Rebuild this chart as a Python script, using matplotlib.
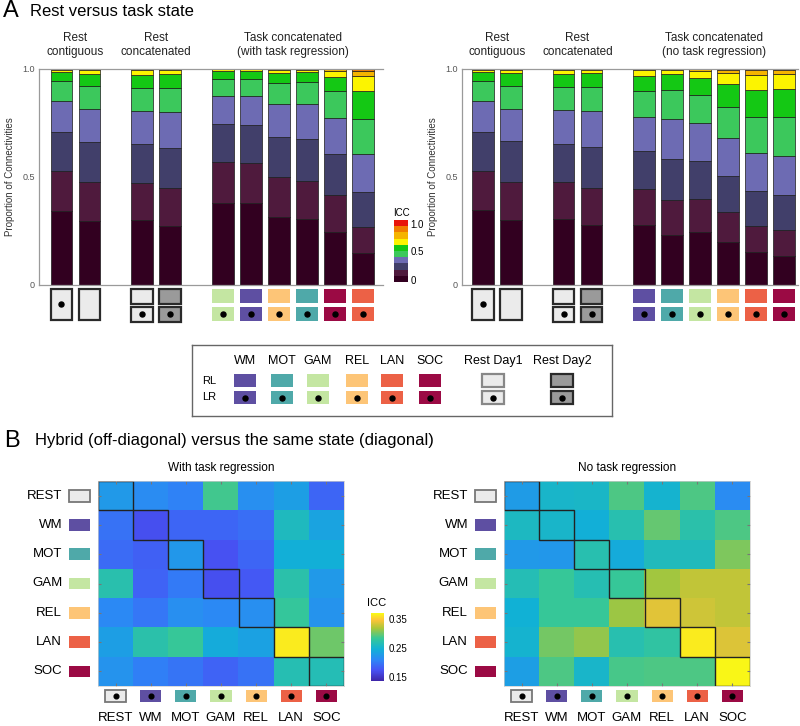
import numpy as np
import matplotlib
matplotlib.use('Agg')
import matplotlib.pyplot as plt
from matplotlib.patches import Rectangle
from matplotlib.colors import ListedColormap, BoundaryNorm, LinearSegmentedColormap
import matplotlib.transforms as mtrans

plt.rcParams['font.family'] = ['Liberation Sans', 'DejaVu Sans']

W, H = 800, 726

# ---- data -------------------------------------------------------------
# ICC bins 0-0.1, 0.1-0.2, ... 0.9-1.0
icc_colors = ['#320020', '#4f1a3d', '#413f6a', '#6d6bb3', '#3cc85c',
              '#14c814', '#fcf400', '#f5b400', '#f07c00', '#e8140a']

task_colors = {'WM': '#5e4fa2', 'MOT': '#4fa9a9', 'GAM': '#c4e6a2',
               'REL': '#fdc577', 'LAN': '#ec6146', 'SOC': '#9b0a44'}
rest_light, rest_dark = '#ebebeb', '#9a9a9a'

order_reg = ['GAM', 'WM', 'REL', 'MOT', 'SOC', 'LAN']
order_noreg = ['WM', 'MOT', 'GAM', 'REL', 'LAN', 'SOC']

# proportion of connectivities per ICC bin, one row per bar
props_reg = [
    [0.343, 0.182, 0.180, 0.145, 0.090, 0.045, 0.010, 0.005, 0.000, 0.000],
    [0.297, 0.178, 0.185, 0.154, 0.106, 0.054, 0.018, 0.008, 0.000, 0.000],
    [0.300, 0.172, 0.177, 0.156, 0.107, 0.059, 0.020, 0.009, 0.000, 0.000],
    [0.272, 0.174, 0.188, 0.166, 0.112, 0.062, 0.018, 0.008, 0.000, 0.000],
    [0.380, 0.186, 0.177, 0.132, 0.077, 0.036, 0.008, 0.004, 0.000, 0.000],
    [0.377, 0.186, 0.177, 0.134, 0.077, 0.037, 0.008, 0.004, 0.000, 0.000],
    [0.315, 0.183, 0.187, 0.149, 0.100, 0.046, 0.013, 0.007, 0.000, 0.000],
    [0.303, 0.179, 0.193, 0.160, 0.103, 0.045, 0.011, 0.006, 0.000, 0.000],
    [0.246, 0.169, 0.188, 0.169, 0.125, 0.066, 0.026, 0.009, 0.002, 0.000],
    [0.146, 0.120, 0.162, 0.175, 0.166, 0.128, 0.069, 0.023, 0.008, 0.003],
]
props_noreg = [
    [0.346, 0.182, 0.180, 0.143, 0.092, 0.042, 0.010, 0.005, 0.000, 0.000],
    [0.300, 0.178, 0.185, 0.152, 0.105, 0.057, 0.016, 0.007, 0.000, 0.000],
    [0.305, 0.170, 0.177, 0.156, 0.107, 0.059, 0.018, 0.008, 0.000, 0.000],
    [0.277, 0.172, 0.188, 0.166, 0.112, 0.062, 0.016, 0.007, 0.000, 0.000],
    [0.277, 0.165, 0.176, 0.160, 0.119, 0.069, 0.028, 0.005, 0.001, 0.000],
    [0.231, 0.160, 0.191, 0.183, 0.137, 0.072, 0.020, 0.006, 0.000, 0.000],
    [0.243, 0.152, 0.179, 0.172, 0.131, 0.080, 0.032, 0.009, 0.002, 0.000],
    [0.197, 0.138, 0.170, 0.172, 0.146, 0.105, 0.052, 0.013, 0.006, 0.001],
    [0.151, 0.120, 0.161, 0.176, 0.167, 0.125, 0.071, 0.021, 0.007, 0.001],
    [0.134, 0.118, 0.163, 0.183, 0.179, 0.128, 0.069, 0.020, 0.005, 0.001],
]

states = ['REST', 'WM', 'MOT', 'GAM', 'REL', 'LAN', 'SOC']
icc_reg = [
    [0.225, 0.213, 0.206, 0.286, 0.216, 0.230, 0.187],
    [0.195, 0.171, 0.187, 0.187, 0.192, 0.260, 0.234],
    [0.190, 0.183, 0.223, 0.173, 0.187, 0.244, 0.244],
    [0.270, 0.185, 0.200, 0.171, 0.178, 0.272, 0.225],
    [0.211, 0.199, 0.216, 0.211, 0.216, 0.281, 0.220],
    [0.230, 0.272, 0.283, 0.241, 0.232, 0.363, 0.300],
    [0.220, 0.204, 0.197, 0.185, 0.195, 0.267, 0.265],
]
icc_noreg = [
    [0.227, 0.253, 0.255, 0.290, 0.250, 0.290, 0.213],
    [0.258, 0.253, 0.244, 0.269, 0.297, 0.272, 0.290],
    [0.225, 0.223, 0.269, 0.241, 0.262, 0.262, 0.305],
    [0.265, 0.283, 0.267, 0.283, 0.316, 0.326, 0.326],
    [0.246, 0.283, 0.283, 0.314, 0.337, 0.330, 0.326],
    [0.250, 0.302, 0.311, 0.269, 0.276, 0.363, 0.335],
    [0.230, 0.290, 0.253, 0.288, 0.290, 0.290, 0.368],
]

# parula-like colormap
parula = LinearSegmentedColormap.from_list('parula', [
    (0.00, (0.2422, 0.1504, 0.6603)), (0.16, (0.2810, 0.3228, 0.9579)),
    (0.31, (0.1786, 0.5289, 0.9682)), (0.47, (0.0689, 0.6948, 0.8394)),
    (0.63, (0.2161, 0.7843, 0.5923)), (0.78, (0.6720, 0.7793, 0.2227)),
    (0.90, (0.9970, 0.7659, 0.2199)), (1.00, (0.9769, 0.9839, 0.0805))])


def px_axes(fig, x0, y0, x1, y1):
    return fig.add_axes([x0 / W, 1 - y1 / H, (x1 - x0) / W, (y1 - y0) / H])


fig = plt.figure(figsize=(W / 100, H / 100), dpi=100)

# bar positions: two rest pairs then six task bars
xpos = np.array([0, 1, 2.875, 3.875, 5.75, 6.75, 7.75, 8.75, 9.75, 10.75])


def draw_bars(ax, props):
    props = np.array(props)
    props = props / props.sum(axis=1, keepdims=True)
    bottoms = np.zeros(len(props))
    for k in range(props.shape[1]):
        ax.bar(xpos, props[:, k], bottom=bottoms, width=0.78, color=icc_colors[k],
               edgecolor='#1a1a1a', linewidth=0.5)
        bottoms += props[:, k]
    for s in ['top', 'bottom', 'left']:
        ax.spines[s].set_color('#9a9a9a')
        ax.spines[s].set_linewidth(0.9)
    ax.spines['right'].set_visible(False)
    ax.set_ylim(0, 1.0)
    ax.set_xticks([])
    ax.set_yticks([0, 0.5, 1.0])
    ax.set_yticklabels(['0', '0.5', '1.0'], fontsize=6.5, color='#555555')
    ax.tick_params(axis='y', length=0, pad=3)
    ax.set_ylabel('Proportion of Connectivities', fontsize=7, color='#333333', labelpad=5)


def headers(ax, titles):
    tr = mtrans.blended_transform_factory(ax.transData, ax.transAxes)
    centers = [xpos[0:2].mean(), xpos[2:4].mean(), xpos[4:].mean()]
    for c, t in zip(centers, titles):
        ax.text(c, 1.11, t, transform=tr, ha='center', va='center', fontsize=8.5,
                color='#222222', linespacing=1.25)


def rest_box(ax, x, y, h, face, dot, w=0.78, ec='#2a2a2a'):
    ax.add_patch(Rectangle((x - w / 2, y), w, h, facecolor=face, edgecolor=ec,
                           linewidth=1.6, clip_on=False))
    if dot:
        ax.plot(x, y + h / 2, 'o', color='k', ms=3.6, clip_on=False)


def task_box(ax, x, y, h, color, dot, w=0.78):
    ax.add_patch(Rectangle((x - w / 2, y), w, h, facecolor=color, edgecolor='none', clip_on=False))
    if dot:
        ax.plot(x, y + h / 2, 'o', color='k', ms=3.6, clip_on=False)


def draw_icons(ax, order, xl):
    ax.axis('off')
    rest_box(ax, xpos[0], 3.5, 31.5, rest_light, True)
    rest_box(ax, xpos[1], 3.5, 31.5, rest_light, False)
    for i, face in zip([2, 3], [rest_light, rest_dark]):
        rest_box(ax, xpos[i], 4, 14.5, face, False)
        rest_box(ax, xpos[i], 22, 14.5, face, True)
    for i, name in enumerate(order):
        task_box(ax, xpos[4 + i], 4, 14, task_colors[name], False)
        task_box(ax, xpos[4 + i], 22, 14, task_colors[name], True)
    ax.set_xlim(*xl)
    ax.set_ylim(40, 0)


# ---- panel A ----------------------------------------------------------
fig.text(3 / W, 1 - 11 / H, 'A', fontsize=17, va='center', ha='left')
fig.text(30 / W, 1 - 12 / H, 'Rest versus task state', fontsize=12, va='center', ha='left')

xl1 = (-0.8, 11.45)
ax1 = px_axes(fig, 39, 68.5, 383, 285)
draw_bars(ax1, props_reg)
ax1.set_xlim(*xl1)
headers(ax1, ['Rest\ncontiguous', 'Rest\nconcatenated', 'Task concatenated\n(with task regression)'])
ic1 = px_axes(fig, 39, 285, 383, 325)
draw_icons(ic1, order_reg, xl1)

xl2 = (-0.75, 11.25)
ax2 = px_axes(fig, 462, 68.5, 798, 285)
draw_bars(ax2, props_noreg)
ax2.set_xlim(*xl2)
headers(ax2, ['Rest\ncontiguous', 'Rest\nconcatenated', 'Task concatenated\n(no task regression)'])
ic2 = px_axes(fig, 462, 285, 798, 325)
draw_icons(ic2, order_noreg, xl2)

# discrete ICC colorbar
cax1 = px_axes(fig, 394, 220, 408, 282)
bounds = np.linspace(0, 1, 11)
cb1 = fig.colorbar(plt.cm.ScalarMappable(norm=BoundaryNorm(bounds, 10), cmap=ListedColormap(icc_colors)),
                   cax=cax1, boundaries=bounds)
cb1.outline.set_visible(False)
cax1.minorticks_off()
cb1.set_ticks([0.04, 0.5, 0.94])
cb1.set_ticklabels(['0', '0.5', '1.0'])
cax1.tick_params(which='both', length=0, labelsize=7, pad=2)
fig.text(401 / W, 1 - 213 / H, 'ICC', fontsize=7, ha='center', va='center')

# legend box
lg = px_axes(fig, 192, 345, 612, 416)
lg.set_xticks([])
lg.set_yticks([])
for s in lg.spines.values():
    s.set_color('#666666')
    s.set_linewidth(1.0)
leg_x = [53, 90, 126, 165, 200, 238]
for x, name in zip(leg_x, ['WM', 'MOT', 'GAM', 'REL', 'LAN', 'SOC']):
    lg.text(x, 16, name, ha='center', va='center', fontsize=9)
    task_box(lg, x, 29, 13, task_colors[name], False, w=22)
    task_box(lg, x, 46, 13, task_colors[name], True, w=22)
for x, name, face, ec in [(301, 'Rest Day1', rest_light, '#888888'), (370, 'Rest Day2', rest_dark, '#2a2a2a')]:
    lg.text(x, 16, name, ha='center', va='center', fontsize=9)
    rest_box(lg, x, 29, 13, face, False, w=22, ec=ec)
    rest_box(lg, x, 46, 13, face, True, w=22, ec=ec)
lg.text(10, 35.5, 'RL', ha='left', va='center', fontsize=8)
lg.text(10, 52.5, 'LR', ha='left', va='center', fontsize=8)
lg.set_xlim(0, 420)
lg.set_ylim(71, 0)

# ---- panel B ----------------------------------------------------------
fig.text(4 / W, 1 - 441 / H, 'B', fontsize=17, va='center', ha='left')
fig.text(35 / W, 1 - 441 / H, 'Hybrid (off-diagonal) versus the same state (diagonal)',
         fontsize=12, va='center', ha='left')

vmin, vmax = 0.136, 0.37


def draw_heatmap(ax, data, title):
    data = np.array(data)
    im = ax.imshow(data, cmap=parula, vmin=vmin, vmax=vmax, aspect='auto')
    n = len(states)
    for i in range(n):
        ax.add_patch(Rectangle((i - 0.5, i - 0.5), 1, 1, fill=False, edgecolor='#222222', linewidth=1.0))
    ax.set_xticks(range(n))
    ax.set_yticks(range(n))
    ax.tick_params(direction='in', length=2, color='#777777', top=True, right=True,
                   labelbottom=False, labelleft=False)
    for s in ax.spines.values():
        s.set_color('#cccccc')
        s.set_linewidth(0.5)
    ax.set_title(title, fontsize=8.5, pad=7)
    for i, name in enumerate(states):
        face = rest_light if name == 'REST' else task_colors[name]
        ec = '#777777' if name == 'REST' else 'none'
        # row labels and icons
        ax.text(-1.52, i, name, ha='right', va='center', fontsize=9.5, clip_on=False)
        ax.add_patch(Rectangle((-1.32, i - 0.2), 0.6, 0.4, facecolor=face,
                               edgecolor=ec, linewidth=1.3, clip_on=False))
        # column icons and labels
        ax.add_patch(Rectangle((i - 0.3, 6.64), 0.6, 0.42, facecolor=face,
                               edgecolor=ec, linewidth=1.3, clip_on=False))
        ax.plot(i, 6.85, 'o', color='k', ms=3.4, clip_on=False)
        ax.text(i, 7.6, name, ha='center', va='center', fontsize=9.5, clip_on=False)
    ax.set_xlim(-0.5, n - 0.5)
    ax.set_ylim(n - 0.5, -0.5)
    return im


hb1 = px_axes(fig, 98, 481, 344, 686)
im = draw_heatmap(hb1, icc_reg, 'With task regression')
hb2 = px_axes(fig, 504, 481, 750, 686)
draw_heatmap(hb2, icc_noreg, 'No task regression')

cax2 = px_axes(fig, 371, 613, 384, 681)
cb2 = fig.colorbar(im, cax=cax2)
cb2.outline.set_visible(False)
cb2.set_ticks([0.15, 0.25, 0.35])
cb2.set_ticklabels(['0.15', '0.25', '0.35'])
cax2.tick_params(length=0, labelsize=7, pad=3)
fig.text(377 / W, 1 - 603 / H, 'ICC', fontsize=8, ha='center', va='center')

fig.savefig('out.png', dpi=100)
